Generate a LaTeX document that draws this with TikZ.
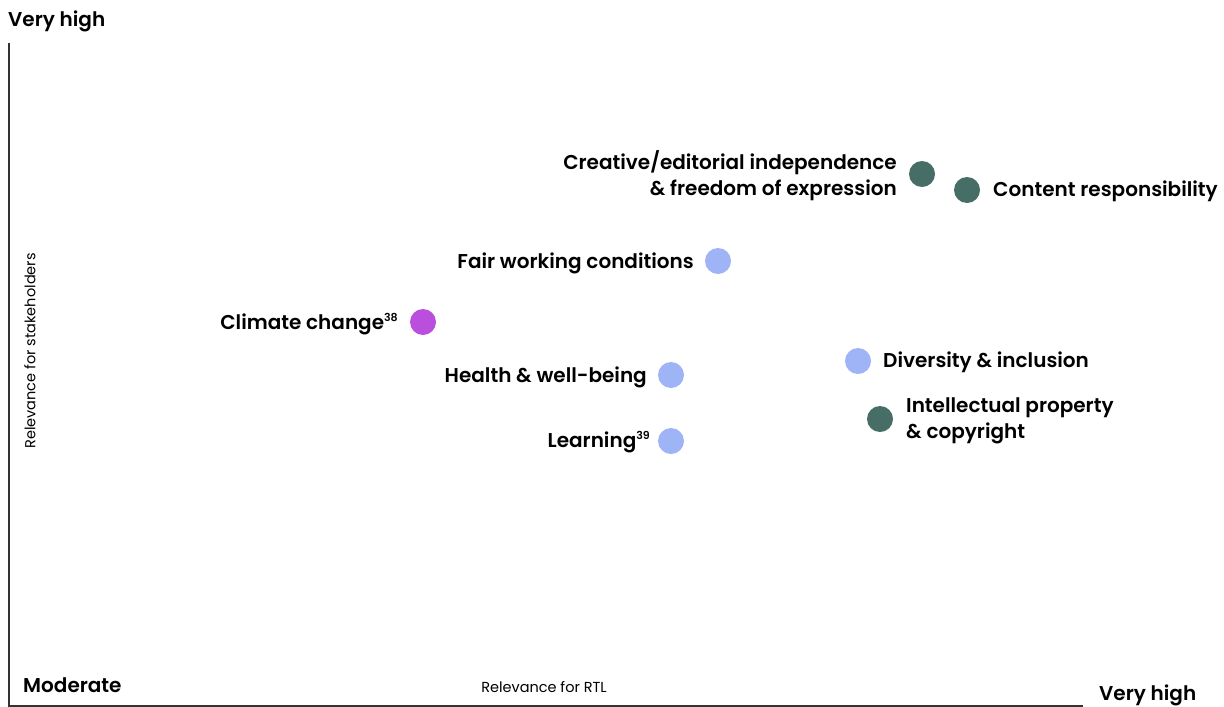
\documentclass[tikz,border=0pt]{standalone}
\usepackage{fontspec}
\setmainfont{Poppins}[BoldFont={Poppins SemiBold}]
\definecolor{dgreen}{HTML}{476E66}
\definecolor{lblue}{HTML}{9FB3F7}
\definecolor{purp}{HTML}{B94FDC}
\definecolor{axisc}{HTML}{333333}
\newcommand{\supnum}[1]{\raisebox{0.42em}{\fontsize{11}{11}\selectfont #1}}
\begin{document}
\begin{tikzpicture}[x=1pt,y=-1pt,
  dot/.style={circle,inner sep=0pt,minimum size=26pt},
  lab/.style={font=\fontsize{20}{26}\selectfont\bfseries,inner sep=0pt,text=black},
  small/.style={font=\fontsize{14.5}{16}\selectfont,inner sep=0pt,text=black}]
\useasboundingbox (0,0) rectangle (1224,707);
\coordinate (ytop) at (9,43);
\coordinate (orig) at (9,706);
\coordinate (xend) at (1083,706);
\draw[axisc,line width=1.3pt] (ytop) -- (orig) -- (xend);
\node[lab,anchor=west] (vh1) at (8,21) {Very high};
\node[lab,anchor=west] (mod) at (23,685) {Moderate};
\node[lab,anchor=west] (vh2) at (1099,695) {Very high};
\node[small] (xl) at (544,687) {Relevance for RTL};
\node[small,rotate=90] (yl) at (30,351) {Relevance for stakeholders};
\node[dot,fill=dgreen] (d1) at (922,174) {};
\node[dot,fill=dgreen] (d2) at (967,190) {};
\node[dot,fill=lblue] (d3) at (718,261) {};
\node[dot,fill=purp] (d4) at (423,322) {};
\node[dot,fill=lblue] (d5) at (671,375) {};
\node[dot,fill=lblue] (d6) at (858,361) {};
\node[dot,fill=dgreen] (d7) at (880,419) {};
\node[dot,fill=lblue] (d8) at (671,441) {};
\node[lab,anchor=east,align=right] (l1) at (897,176) {Creative/editorial independence\\\& freedom of expression};
\node[lab,anchor=west] (l2) at (993,191) {Content responsibility};
\node[lab,anchor=east] (l3) at (694,263) {Fair working conditions};
\node[lab,anchor=east] (l4) at (398,324) {Climate change\supnum{38}};
\node[lab,anchor=east] (l5) at (647,377) {Health \& well-being};
\node[lab,anchor=west] (l6) at (883,362) {Diversity \& inclusion};
\node[lab,anchor=west,align=left] (l7) at (906,421) {Intellectual property\\\& copyright};
\node[lab,anchor=east] (l8) at (650,442) {Learning\supnum{39}};
\end{tikzpicture}
\end{document}
